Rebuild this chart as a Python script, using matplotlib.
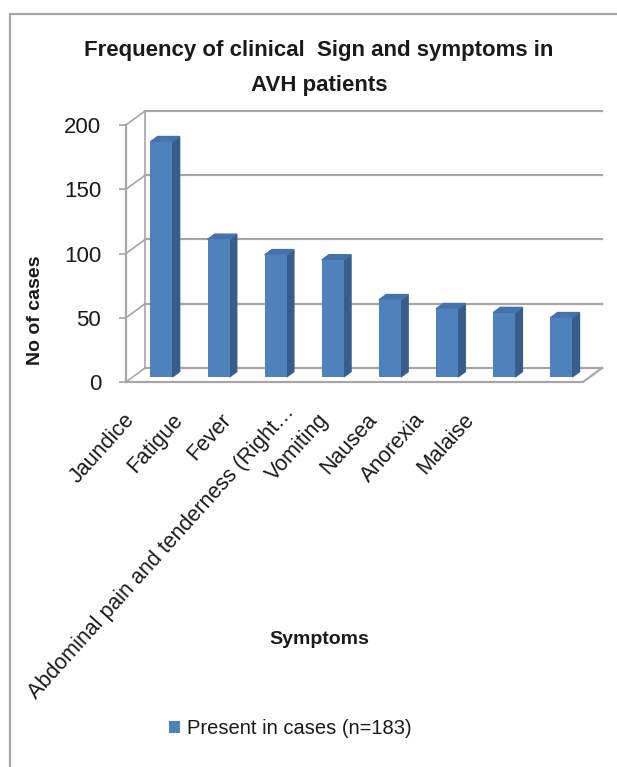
import matplotlib
matplotlib.use("Agg")
import matplotlib.pyplot as plt
from matplotlib.patches import Polygon
from matplotlib.lines import Line2D
import numpy as np

plt.rcParams['font.family'] = ['Liberation Sans', 'DejaVu Sans']

# data
symptoms = ['Jaundice', 'Fatigue', 'Fever', 'Abdominal pain and tenderness (Right\u2026',
            'Vomiting', 'Nausea', 'Anorexia', 'Malaise']
cases = [183, 107, 95, 91, 60, 53, 50, 46]
yticks = [0, 50, 100, 150, 200]
series_name = 'Present in cases (n=183)'
title = 'Frequency of clinical  Sign and symptoms in\nAVH patients'

W, H = 617, 767
front = '#4F81BD'
side = '#385D8A'
top = '#4672AC'
grid = '#A6A6A6'
ink = '#1A1A1A'

fig = plt.figure(figsize=(W / 100, H / 100), dpi=100)
ax = fig.add_axes([126 / W, 1 - 382 / H, 457 / W, 257 / H])
ax.set_xlim(-0.5, 7.5)
ax.set_ylim(0, 200)
for s in ax.spines.values():
    s.set_visible(False)

# depth of the fake 3d box, in data units
dx, dy = 0.333, 10.9
x = np.arange(len(symptoms))

# back wall gridlines + left wall diagonals
for v in yticks:
    ax.add_line(Line2D([-0.5 + dx, 7.5 + dx], [v + dy, v + dy], color=grid, lw=1.6, clip_on=False, zorder=1))
    ax.add_line(Line2D([-0.5, -0.5 + dx], [v, v + dy], color=grid, lw=1.2, clip_on=False, zorder=1))
ax.add_line(Line2D([-0.5 + dx, -0.5 + dx], [dy, 200 + dy], color=grid, lw=1.2, clip_on=False, zorder=1))
# front axis and floor
ax.add_line(Line2D([-0.5, -0.5], [0, 200], color=grid, lw=1.6, clip_on=False, zorder=1))
ax.add_line(Line2D([-0.5, 7.5, 7.5 + dx], [0, 0, dy], color=grid, lw=1.6, clip_on=False, zorder=1))

# bars: front face at 36% of depth, 38% deep
f0, fd = 0.36, 0.38
bw = 0.385
bars = ax.bar(x + f0 * dx, cases, width=bw, bottom=f0 * dy, color=front, zorder=3,
              clip_on=False, label=series_name)
ddx, ddy = fd * dx, fd * dy
for b, v in zip(bars, cases):
    xl = b.get_x()
    xr = xl + b.get_width()
    y0 = b.get_y()
    y1 = y0 + v
    ax.add_patch(Polygon([(xr, y0), (xr + ddx, y0 + ddy), (xr + ddx, y1 + ddy), (xr, y1)],
                         closed=True, color=side, zorder=2.9, clip_on=False))
    ax.add_patch(Polygon([(xl, y1), (xr, y1), (xr + ddx, y1 + ddy), (xl + ddx, y1 + ddy)],
                         closed=True, color=top, zorder=2.9, clip_on=False))

ax.set_yticks(yticks)
ax.tick_params(axis='y', length=5, width=1.2, color=grid, pad=13, labelsize=16, labelcolor=ink)
ax.set_xticks([])

# category labels, rotated (the long truncated one sits a bit higher/right, like excel does)
for i, name in enumerate(symptoms):
    xo, yo = i * 0.848 - 0.41, -0.135
    if i == 3:
        xo, yo = xo + 0.25, yo + 0.03
    ax.text(xo, yo, name, transform=ax.get_xaxis_transform(), color=ink,
            rotation=48, rotation_mode='anchor', ha='right', va='center', fontsize=15.5)

fig.text(319 / W, 1 - 68 / H, title, ha='center', va='center', fontsize=16,
         fontweight='bold', linespacing=1.85, color=ink)
fig.text(36 / W, 1 - 310 / H, 'No of cases', rotation=90, ha='center', va='center',
         fontsize=14, fontweight='bold', color=ink)
fig.text(319 / W, 1 - 640 / H, 'Symptoms', ha='center', va='center', fontsize=14,
         fontweight='bold', color=ink)

leg = fig.legend(handles=[bars], labels=[series_name], loc='center', bbox_to_anchor=(290 / W, 1 - 729 / H),
                 frameon=False, fontsize=14.5, handlelength=0.55, handleheight=0.55, handletextpad=0.35)
for t in leg.get_texts():
    t.set_color(ink)

# chart frame (cut off on the right and bottom)
fig.add_artist(Line2D([9.5 / W, 9.5 / W], [0, 1 - 14 / H], color=grid, lw=1.6))
fig.add_artist(Line2D([9.5 / W, 1], [1 - 14 / H, 1 - 14 / H], color=grid, lw=1.6))

fig.savefig('out.png', dpi=100)
